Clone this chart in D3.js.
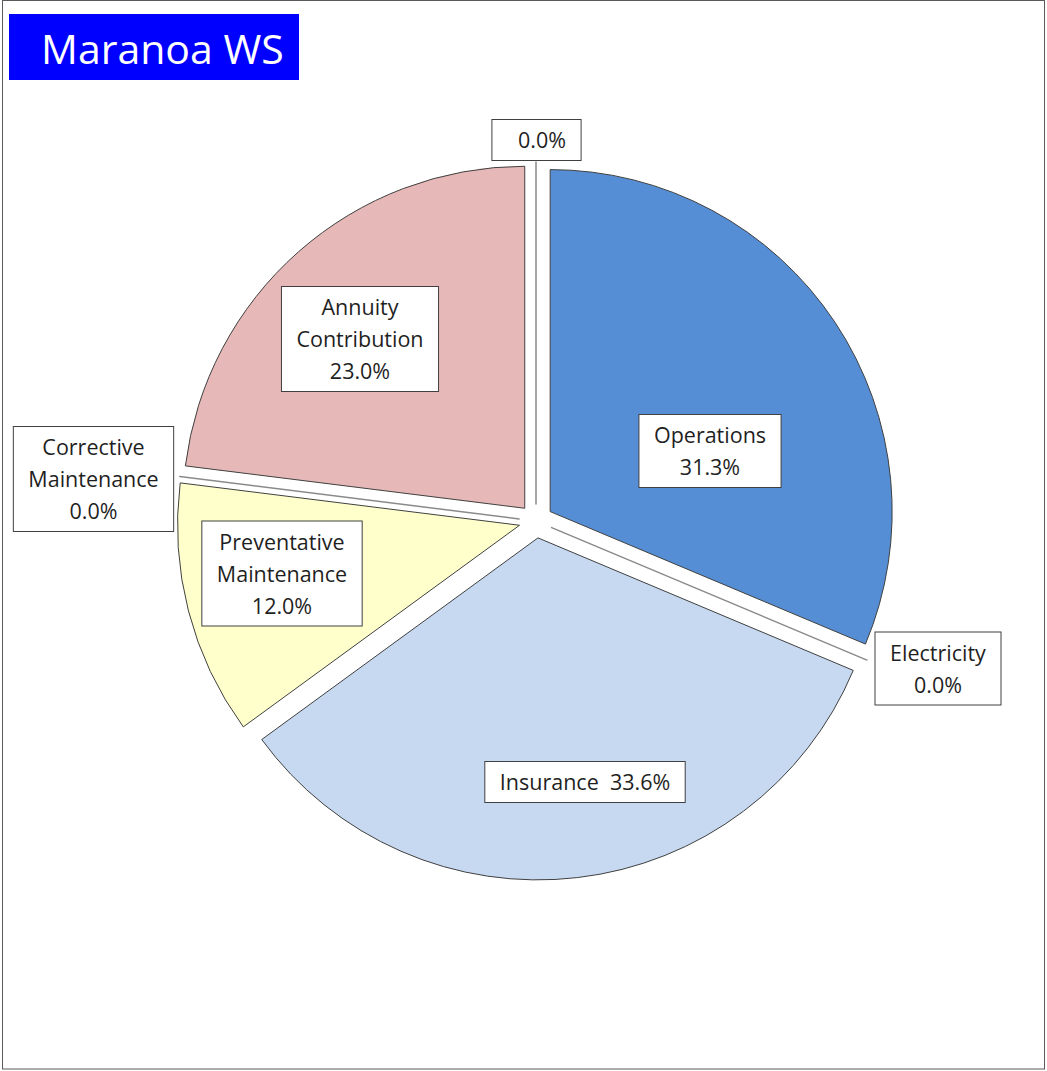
<!DOCTYPE html>
<html>
<head>
<meta charset="utf-8">
<script src="https://cdn.jsdelivr.net/npm/d3@7"></script>
<style>
  body { margin: 0; background: #fff; }
  text { font-family: "Open Sans", sans-serif; }
</style>
</head>
<body>
<script>
const Width = 1047;
const Height = 1071;

// data (clockwise from 12 o'clock)
const categories = ["Operations", "Electricity", "Insurance", "Preventative Maintenance",
                    "Corrective Maintenance", "Annuity Contribution", ""];
const values = [31.3, 0.0, 33.6, 12.0, 0.0, 23.0, 0.0];
const colors = ["#558ED5", "#558ED5", "#C6D9F1", "#FFFFCC", "#FFFFCC", "#E6B9B8", "#E6B9B8"];
const labelLines = [
  ["Operations", "31.3%"],
  ["Electricity", "0.0%"],
  ["Insurance  33.6%"],
  ["Preventative", "Maintenance", "12.0%"],
  ["Corrective", "Maintenance", "0.0%"],
  ["Annuity", "Contribution", "23.0%"],
  ["  0.0%"]
];

// label box centres, like the chart's own placement
const labelPos = [
  [710, 451], [938, 668.5], [585, 782], [282, 573.5],
  [93.5, 479], [360, 339], [536.5, 140]
];

const cx = 536, cy = 521;
const radius = 342;
const explode = 17;
const lineH = 32;

const svg = d3.select('body')
  .append('svg')
    .attr('width', Width)
    .attr('height', Height);

// outer frame
svg.append('rect')
  .attr('x', 2.5).attr('y', 0.5)
  .attr('width', 1042).attr('height', 1068.5)
  .attr('fill', 'none')
  .attr('stroke', '#5a5a5a')
  .attr('stroke-width', 1);

// title
svg.append('rect')
  .attr('x', 9).attr('y', 14)
  .attr('width', 290).attr('height', 66)
  .attr('fill', '#0000FF');
svg.append('text')
  .attr('x', 41).attr('y', 64)
  .attr('fill', '#fff')
  .style('font-size', '41px')
  .text('Maranoa WS');

const pieData = d3.pie()
  .sort(null)
  .value(d => d)(values);

const arc = d3.arc()
  .innerRadius(0)
  .outerRadius(radius);

const g = svg.append('g')
  .attr('transform', `translate(${cx}, ${cy})`);

g.selectAll('path')
  .data(pieData)
  .join('path')
    .attr('d', arc)
    .attr('transform', d => {
      const a = (d.startAngle + d.endAngle) / 2;
      return `translate(${Math.sin(a) * explode}, ${-Math.cos(a) * explode})`;
    })
    .attr('fill', (d, i) => colors[i])
    .attr('stroke', (d, i) => values[i] === 0 ? '#8a8a8a' : '#404040')
    .attr('stroke-width', (d, i) => values[i] === 0 ? 1.5 : 1)
    .attr('stroke-linejoin', 'round');

// labels
const lab = svg.selectAll('g.label')
  .data(pieData)
  .join('g')
    .attr('class', 'label')
    .attr('transform', (d, i) => `translate(${labelPos[i][0]}, ${labelPos[i][1]})`);

lab.each(function(d, i) {
  const sel = d3.select(this);
  const lines = labelLines[i];
  const box = sel.append('rect')
    .attr('fill', '#fff')
    .attr('stroke', '#404040')
    .attr('stroke-width', 1);
  const t = sel.append('text')
    .attr('text-anchor', 'middle')
    .attr('fill', '#1f1f1f')
    .style('font-size', '21.5px')
    .style('white-space', 'pre');
  lines.forEach((ln, k) => {
    t.append('tspan')
      .attr('x', 0)
      .attr('y', -(lines.length - 1) * lineH / 2 + k * lineH + 8)
      .text(ln);
  });
  const w = t.node().getBBox().width + 30;
  const h = lines.length * lineH + 9;
  box.attr('x', -w / 2).attr('y', -h / 2)
    .attr('width', w).attr('height', h);
});
</script>
</body>
</html>
